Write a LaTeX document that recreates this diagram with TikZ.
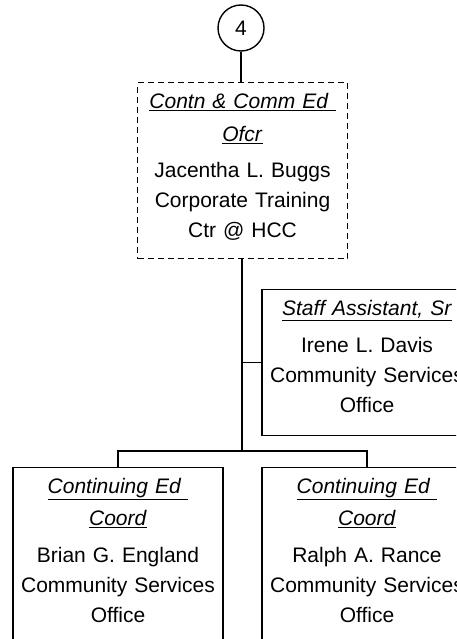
\documentclass[tikz,border=0pt]{standalone}
\usepackage{fontspec}
\setmainfont{Liberation Sans}
\usepackage{tikz}
\usetikzlibrary{positioning}

\tikzset{
    post/.style={draw, line width=1.4pt, text width=200pt, inner xsep=5pt, inner ysep=10pt,
        align=center, anchor=north, text height=16pt,
        font=\fontsize{21}{30}\selectfont},
    link/.style={line width=1.4pt},
    pagecirc/.style={draw, circle, line width=1.4pt, minimum size=46pt, inner sep=0pt,
        font=\fontsize{21}{24}\selectfont}
}

\newcommand{\ttl}[1]{\underline{\textit{#1}}}

\begin{document}
\begin{tikzpicture}[x=1pt, y=-1pt]
    % Page frame
    \useasboundingbox (0,0) rectangle (456,639);
    \clip (0,0) rectangle (456,639);

    % Off-page connector
    \node[pagecirc] (pg4) at (241,28) {4};

    % Officer (dashed)
    \node[post, dashed, dash pattern=on 6pt off 4pt, text depth=140pt] (ofcr) at (242.5,82)
        {\ttl{Contn \& Comm Ed }\\[3pt] \ttl{Ofcr}\\[6pt] Jacentha L. Buggs\\ Corporate Training\\ Ctr @ HCC};

    % Staff assistant
    \node[post, text depth=110pt] (staff) at (367,289)
        {\ttl{Staff Assistant, Sr}\\[7pt] Irene L. Davis\\ Community Services\\ Office};

    % Coordinators
    \node[post, text depth=200pt] (coordA) at (118,467)
        {\ttl{Continuing Ed }\\[2pt] \ttl{Coord}\\[7pt] Brian G. England\\ Community Services\\ Office};
    \node[post, text depth=200pt] (coordB) at (367,467)
        {\ttl{Continuing Ed }\\[2pt] \ttl{Coord}\\[7pt] Ralph A. Rance\\ Community Services\\ Office};

    % Lines
    \coordinate (bus) at (242,451);
    \draw[link] (pg4) -- (pg4 |- ofcr.north);
    \draw[link] (bus |- ofcr.south) -- (bus);
    \draw[link] (bus |- staff.west) -- (staff.west);
    \draw[link] (bus) -| (coordA.north);
    \draw[link] (bus) -| (coordB.north);

\end{tikzpicture}
\end{document}
